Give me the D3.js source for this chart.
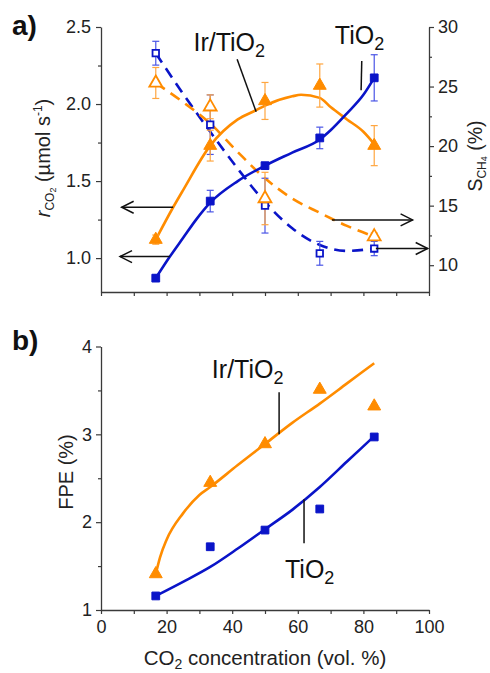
<!DOCTYPE html>
<html>
<head>
<meta charset="utf-8">
<script src="https://cdn.jsdelivr.net/npm/d3@7"></script>
<style>
  html, body { margin: 0; padding: 0; background: #fff; }
  svg { display: block; font-family: "Liberation Sans", Arial, Helvetica, sans-serif; }
</style>
</head>
<body>
<svg id="chart" width="490" height="673"></svg>
<script>
// ---------- data ----------
const concentration = [16.7, 33.3, 50, 66.7, 83.3];

// panel a: CO2 conversion rate (left axis)
const rateTiO2    = [0.87, 1.37, 1.60, 1.78, 2.17];
const rateTiO2Err = [0.02, 0.07, 0.02, 0.07, 0.15];
const rateIr      = [1.12, 1.73, 2.02, 2.12, 1.73];
const rateIrErr   = [0.03, 0.10, 0.12, 0.14, 0.13];

// panel a: CH4 selectivity (right axis)
const selTiO2    = [27.8, 21.8, 15.0, 11.0, 11.4];
const selTiO2Err = [1.0, 2.5, 2.3, 1.0, 0.6];
const selIr      = [25.3, 23.3, 15.6, null, 12.4];
const selIrErr   = [1.3, 1.0, 2.2, null, 0.3];

// fitted curves
const fitRateIrX   = [16.7, 22, 25, 33.3, 41.7, 47.3, 50, 58.3, 61, 66.7, 70, 75, 80, 83.3];
const fitRateIrY   = [1.12, 1.33, 1.44, 1.73, 1.90, 1.96, 1.99, 2.05, 2.06, 2.04, 1.98, 1.90, 1.82, 1.74];
const fitRateTiX   = [16.7, 21, 25, 29, 33.3, 41.7, 50, 58.3, 66.7, 70, 75, 80, 83.3];
const fitRateTiY   = [0.87, 1.01, 1.13, 1.25, 1.36, 1.50, 1.60, 1.685, 1.77, 1.83, 1.94, 2.06, 2.17];
const fitSelTiX    = [16.7, 25, 33.3, 41.7, 50, 58.3, 66.7, 75, 83.3];
const fitSelTiY    = [27.8, 24.4, 21.2, 18.1, 15.3, 13.1, 11.7, 11.2, 11.4];
const fitSelIrX    = [16.7, 25, 33.3, 41.7, 50, 58.3, 66.7, 75, 83.3];
const fitSelIrY    = [25.3, 23.7, 21.9, 19.5, 17.3, 15.6, 14.4, 13.3, 12.4];

// panel b: FPE
const fpeTiO2 = [1.16, 1.72, 1.91, 2.15, 2.97];
const fpeIr   = [1.41, 2.45, 2.89, 3.51, 3.32];
const fitFpeIrX = [16.7, 18, 20, 25, 30, 33.3, 41.7, 50, 58.3, 66.7, 75, 83.3];
const fitFpeIrY = [1.41, 1.60, 1.80, 2.10, 2.31, 2.40, 2.65, 2.89, 3.13, 3.35, 3.58, 3.81];
const fitFpeTiX = [16.7, 25, 33.3, 41.7, 50, 58.3, 66.7, 75, 83.3];
const fitFpeTiY = [1.16, 1.32, 1.49, 1.70, 1.92, 2.14, 2.40, 2.69, 2.98];

// tick labels
const xTicks = [0, 20, 40, 60, 80, 100];
const xMinor = [10, 30, 50, 70, 90];
const rateTicks = [1.0, 1.5, 2.0, 2.5];
const rateMinor = [1.25, 1.75, 2.25];
const selTicks = [10, 15, 20, 25, 30];
const selMinor = [12.5, 17.5, 22.5, 27.5];
const fpeTicks = [1, 2, 3, 4];
const fpeMinor = [1.5, 2.5, 3.5];

// ---------- style ----------
const ORANGE = "#ff8c00", ORANGE_ERR = "#ffa640";
const BLUE = "#0a14c8", BLUE_ERR = "#4a55e6";
const AXIS = "#3a3a3a";

const svg = d3.select("#chart");

// ---------- scales ----------
const x = d3.scaleLinear([0, 100], [101, 429]);
const yL = d3.scaleLinear([0.78, 2.5], [292, 27]);
const yR = d3.scaleLinear([7.75, 30], [292, 27]);
const yB = d3.scaleLinear([1, 4], [610, 346.5]);

function styleAxis(g) {
  g.selectAll("path.domain").attr("stroke", AXIS).attr("stroke-width", 1.3);
  g.selectAll(".tick line").attr("stroke", AXIS).attr("stroke-width", 1.2);
  g.selectAll(".tick text").attr("fill", "#222").style("font-size", "18px")
   .style("font-family", '"Liberation Sans", Arial, sans-serif');
}
function minor(axisGen, vals, size) {
  return axisGen.tickValues(vals).tickSize(size).tickSizeOuter(0).tickFormat("");
}

// ---------- panel a axes ----------
const gA = svg.append("g");
gA.append("g").attr("transform", "translate(101,0)")
  .call(d3.axisLeft(yL).tickValues(rateTicks).tickFormat(d3.format(".1f")).tickSize(5).tickSizeOuter(0).tickPadding(5))
  .call(styleAxis);
gA.append("g").attr("transform", "translate(101,0)")
  .call(minor(d3.axisLeft(yL), rateMinor, 3)).call(styleAxis).select(".domain").remove();
gA.append("g").attr("transform", "translate(429,0)")
  .call(d3.axisRight(yR).tickValues(selTicks).tickSize(5).tickSizeOuter(0).tickPadding(4))
  .call(styleAxis);
gA.append("g").attr("transform", "translate(429,0)")
  .call(minor(d3.axisRight(yR), selMinor, 3)).call(styleAxis).select(".domain").remove();
gA.append("g").attr("transform", "translate(0,292)")
  .call(d3.axisBottom(x).tickValues(xTicks).tickSize(4).tickSizeOuter(0).tickFormat(""))
  .call(styleAxis);
gA.append("g").attr("transform", "translate(0,292)")
  .call(minor(d3.axisBottom(x), xMinor, 4)).call(styleAxis).select(".domain").remove();

// ---------- panel b axes ----------
const gB = svg.append("g");
gB.append("g").attr("transform", "translate(101,0)")
  .call(d3.axisLeft(yB).tickValues(fpeTicks).tickFormat(d3.format("d")).tickSize(5).tickSizeOuter(0).tickPadding(4))
  .call(styleAxis);
gB.append("g").attr("transform", "translate(101,0)")
  .call(minor(d3.axisLeft(yB), fpeMinor, 3)).call(styleAxis).select(".domain").remove();
gB.append("g").attr("transform", "translate(0,610)")
  .call(d3.axisBottom(x).tickValues(xTicks).tickSize(4).tickSizeOuter(0).tickPadding(6))
  .call(styleAxis);
gB.append("g").attr("transform", "translate(0,610)")
  .call(minor(d3.axisBottom(x), xMinor, 4)).call(styleAxis).select(".domain").remove();

// ---------- curves ----------
function curve(g, xs, ys, ysc, color, dashed) {
  const pts = xs.map((v, i) => [v, ys[i]]);
  g.append("path")
    .attr("d", d3.line().x(d => x(d[0])).y(d => ysc(d[1])).curve(d3.curveMonotoneX)(pts))
    .attr("fill", "none").attr("stroke", color).attr("stroke-width", 2.6)
    .attr("stroke-dasharray", dashed ? "11,7" : null);
}
curve(gA, fitSelTiX, fitSelTiY, yR, BLUE, true);
curve(gA, fitSelIrX, fitSelIrY, yR, ORANGE, true);
curve(gA, fitRateIrX, fitRateIrY, yL, ORANGE, false);
curve(gA, fitRateTiX, fitRateTiY, yL, BLUE, false);
curve(gB, fitFpeIrX, fitFpeIrY, yB, ORANGE, false);
curve(gB, fitFpeTiX, fitFpeTiY, yB, BLUE, false);

// ---------- error bars ----------
function errBars(g, vals, errs, ysc, color) {
  concentration.forEach((c, i) => {
    if (vals[i] == null || errs[i] == null) return;
    const cx = x(c), y1 = ysc(vals[i] - errs[i]), y2 = ysc(vals[i] + errs[i]);
    g.append("line").attr("x1", cx).attr("x2", cx).attr("y1", y1).attr("y2", y2)
      .attr("stroke", color).attr("stroke-width", 1.2);
    [y1, y2].forEach(yy => g.append("line").attr("x1", cx - 3.5).attr("x2", cx + 3.5)
      .attr("y1", yy).attr("y2", yy).attr("stroke", color).attr("stroke-width", 1.2));
  });
}
errBars(gA, selTiO2, selTiO2Err, yR, BLUE_ERR);
errBars(gA, selIr, selIrErr, yR, ORANGE_ERR);
errBars(gA, rateIr, rateIrErr, yL, ORANGE_ERR);
errBars(gA, rateTiO2, rateTiO2Err, yL, BLUE_ERR);

// ---------- markers ----------
function markers(g, vals, ysc, type, color, open) {
  const sym = d3.symbol().type(type).size(type === d3.symbolSquare ? (open ? 42 : 60) : 72);
  concentration.forEach((c, i) => {
    if (vals[i] == null) return;
    g.append("path").attr("d", sym())
      .attr("transform", `translate(${x(c)},${ysc(vals[i])})`)
      .attr("fill", open ? "#fff" : color)
      .attr("stroke", color).attr("stroke-width", open ? 1.8 : 1);
  });
}
markers(gA, selTiO2, yR, d3.symbolSquare, BLUE, true);
markers(gA, selIr, yR, d3.symbolTriangle, ORANGE, true);
markers(gA, rateIr, yL, d3.symbolTriangle, ORANGE, false);
markers(gA, rateTiO2, yL, d3.symbolSquare, BLUE, false);
markers(gB, fpeIr, yB, d3.symbolTriangle, ORANGE, false);
markers(gB, fpeTiO2, yB, d3.symbolSquare, BLUE, false);

// ---------- annotations: arrows & leader lines ----------
const arrows = [ // [x0, y0, x1, y1, axis]
  [22.0, 1.33, 6.3, 1.33, "L"],
  [21.0, 1.01, 5.8, 1.01, "L"],
  [70.4, 13.8, 95.0, 13.8, "R"],
  [83.8, 11.4, 99.6, 11.4, "R"]
];
arrows.forEach(a => {
  const ysc = a[4] === "L" ? yL : yR;
  const x0 = x(a[0]), x1 = x(a[2]), yy = ysc(a[1]);
  const dir = x1 > x0 ? 1 : -1;
  gA.append("line").attr("x1", x0).attr("x2", x1).attr("y1", yy).attr("y2", yy)
    .attr("stroke", "#111").attr("stroke-width", 1.5);
  gA.append("path")
    .attr("d", `M${x1 - dir * 12},${yy - 6}L${x1},${yy}L${x1 - dir * 12},${yy + 6}`)
    .attr("fill", "none").attr("stroke", "#111").attr("stroke-width", 1.5);
});

const leadersA = [[41.5, 2.29, 47.3, 1.95], [79.5, 2.28, 79.3, 2.09]];
leadersA.forEach(l => gA.append("line")
  .attr("x1", x(l[0])).attr("y1", yL(l[1])).attr("x2", x(l[2])).attr("y2", yL(l[3]))
  .attr("stroke", "#111").attr("stroke-width", 1.5));
const leadersB = [[54.3, 3.48, 54.3, 3.0], [61.9, 2.26, 61.9, 1.76]];
leadersB.forEach(l => gB.append("line")
  .attr("x1", x(l[0])).attr("y1", yB(l[1])).attr("x2", x(l[2])).attr("y2", yB(l[3]))
  .attr("stroke", "#111").attr("stroke-width", 1.5));

// ---------- text ----------
function label(g, tx, ty, main) {
  const t = g.append("text").attr("x", tx).attr("y", ty)
    .style("font-size", "25px").attr("fill", "#111");
  t.append("tspan").text(main);
  t.append("tspan").text("2").style("font-size", "18px").attr("dy", 6);
}
label(svg, x(28.2), 51, "Ir/TiO");
label(svg, x(71.3), 43.5, "TiO");
label(svg, x(33.8), 378, "Ir/TiO");
label(svg, x(56.1), 578, "TiO");

svg.append("text").attr("x", 12).attr("y", 35).text("a)")
  .style("font-size", "28px").style("font-weight", "bold").attr("fill", "#111");
svg.append("text").attr("x", 12).attr("y", 350).text("b)")
  .style("font-size", "28px").style("font-weight", "bold").attr("fill", "#111");

// left title panel a
const tL = svg.append("text").attr("transform", "translate(50,158) rotate(-90)")
  .attr("text-anchor", "middle").style("font-size", "20px").attr("fill", "#222");
tL.append("tspan").text("r").style("font-style", "italic");
tL.append("tspan").text("CO").style("font-size", "12px").attr("dy", 4);
tL.append("tspan").text("2").style("font-size", "9px").attr("dy", 2);
tL.append("tspan").text(" (µmol s").attr("dy", -6);
tL.append("tspan").text("-1").style("font-size", "12px").attr("dy", -8);
tL.append("tspan").text(")").attr("dy", 8);

// right title panel a
const tR = svg.append("text").attr("transform", "translate(482,156) rotate(-90)")
  .attr("text-anchor", "middle").style("font-size", "19.5px").attr("fill", "#222");
tR.append("tspan").text("S");
tR.append("tspan").text("CH").style("font-size", "12px").attr("dy", 4);
tR.append("tspan").text("4").style("font-size", "9px").attr("dy", 1);
tR.append("tspan").text(" (%)").attr("dy", -5);

// y title panel b
svg.append("text").attr("transform", "translate(73,472) rotate(-90)")
  .attr("text-anchor", "middle").style("font-size", "20px").attr("fill", "#222")
  .text("FPE (%)");

// x title
const tX = svg.append("text").attr("x", 265).attr("y", 665)
  .attr("text-anchor", "middle").style("font-size", "20.5px").attr("fill", "#222");
tX.append("tspan").text("CO");
tX.append("tspan").text("2").style("font-size", "14px").attr("dy", 4);
tX.append("tspan").text(" concentration (vol. %)").attr("dy", -4);
</script>
</body>
</html>
